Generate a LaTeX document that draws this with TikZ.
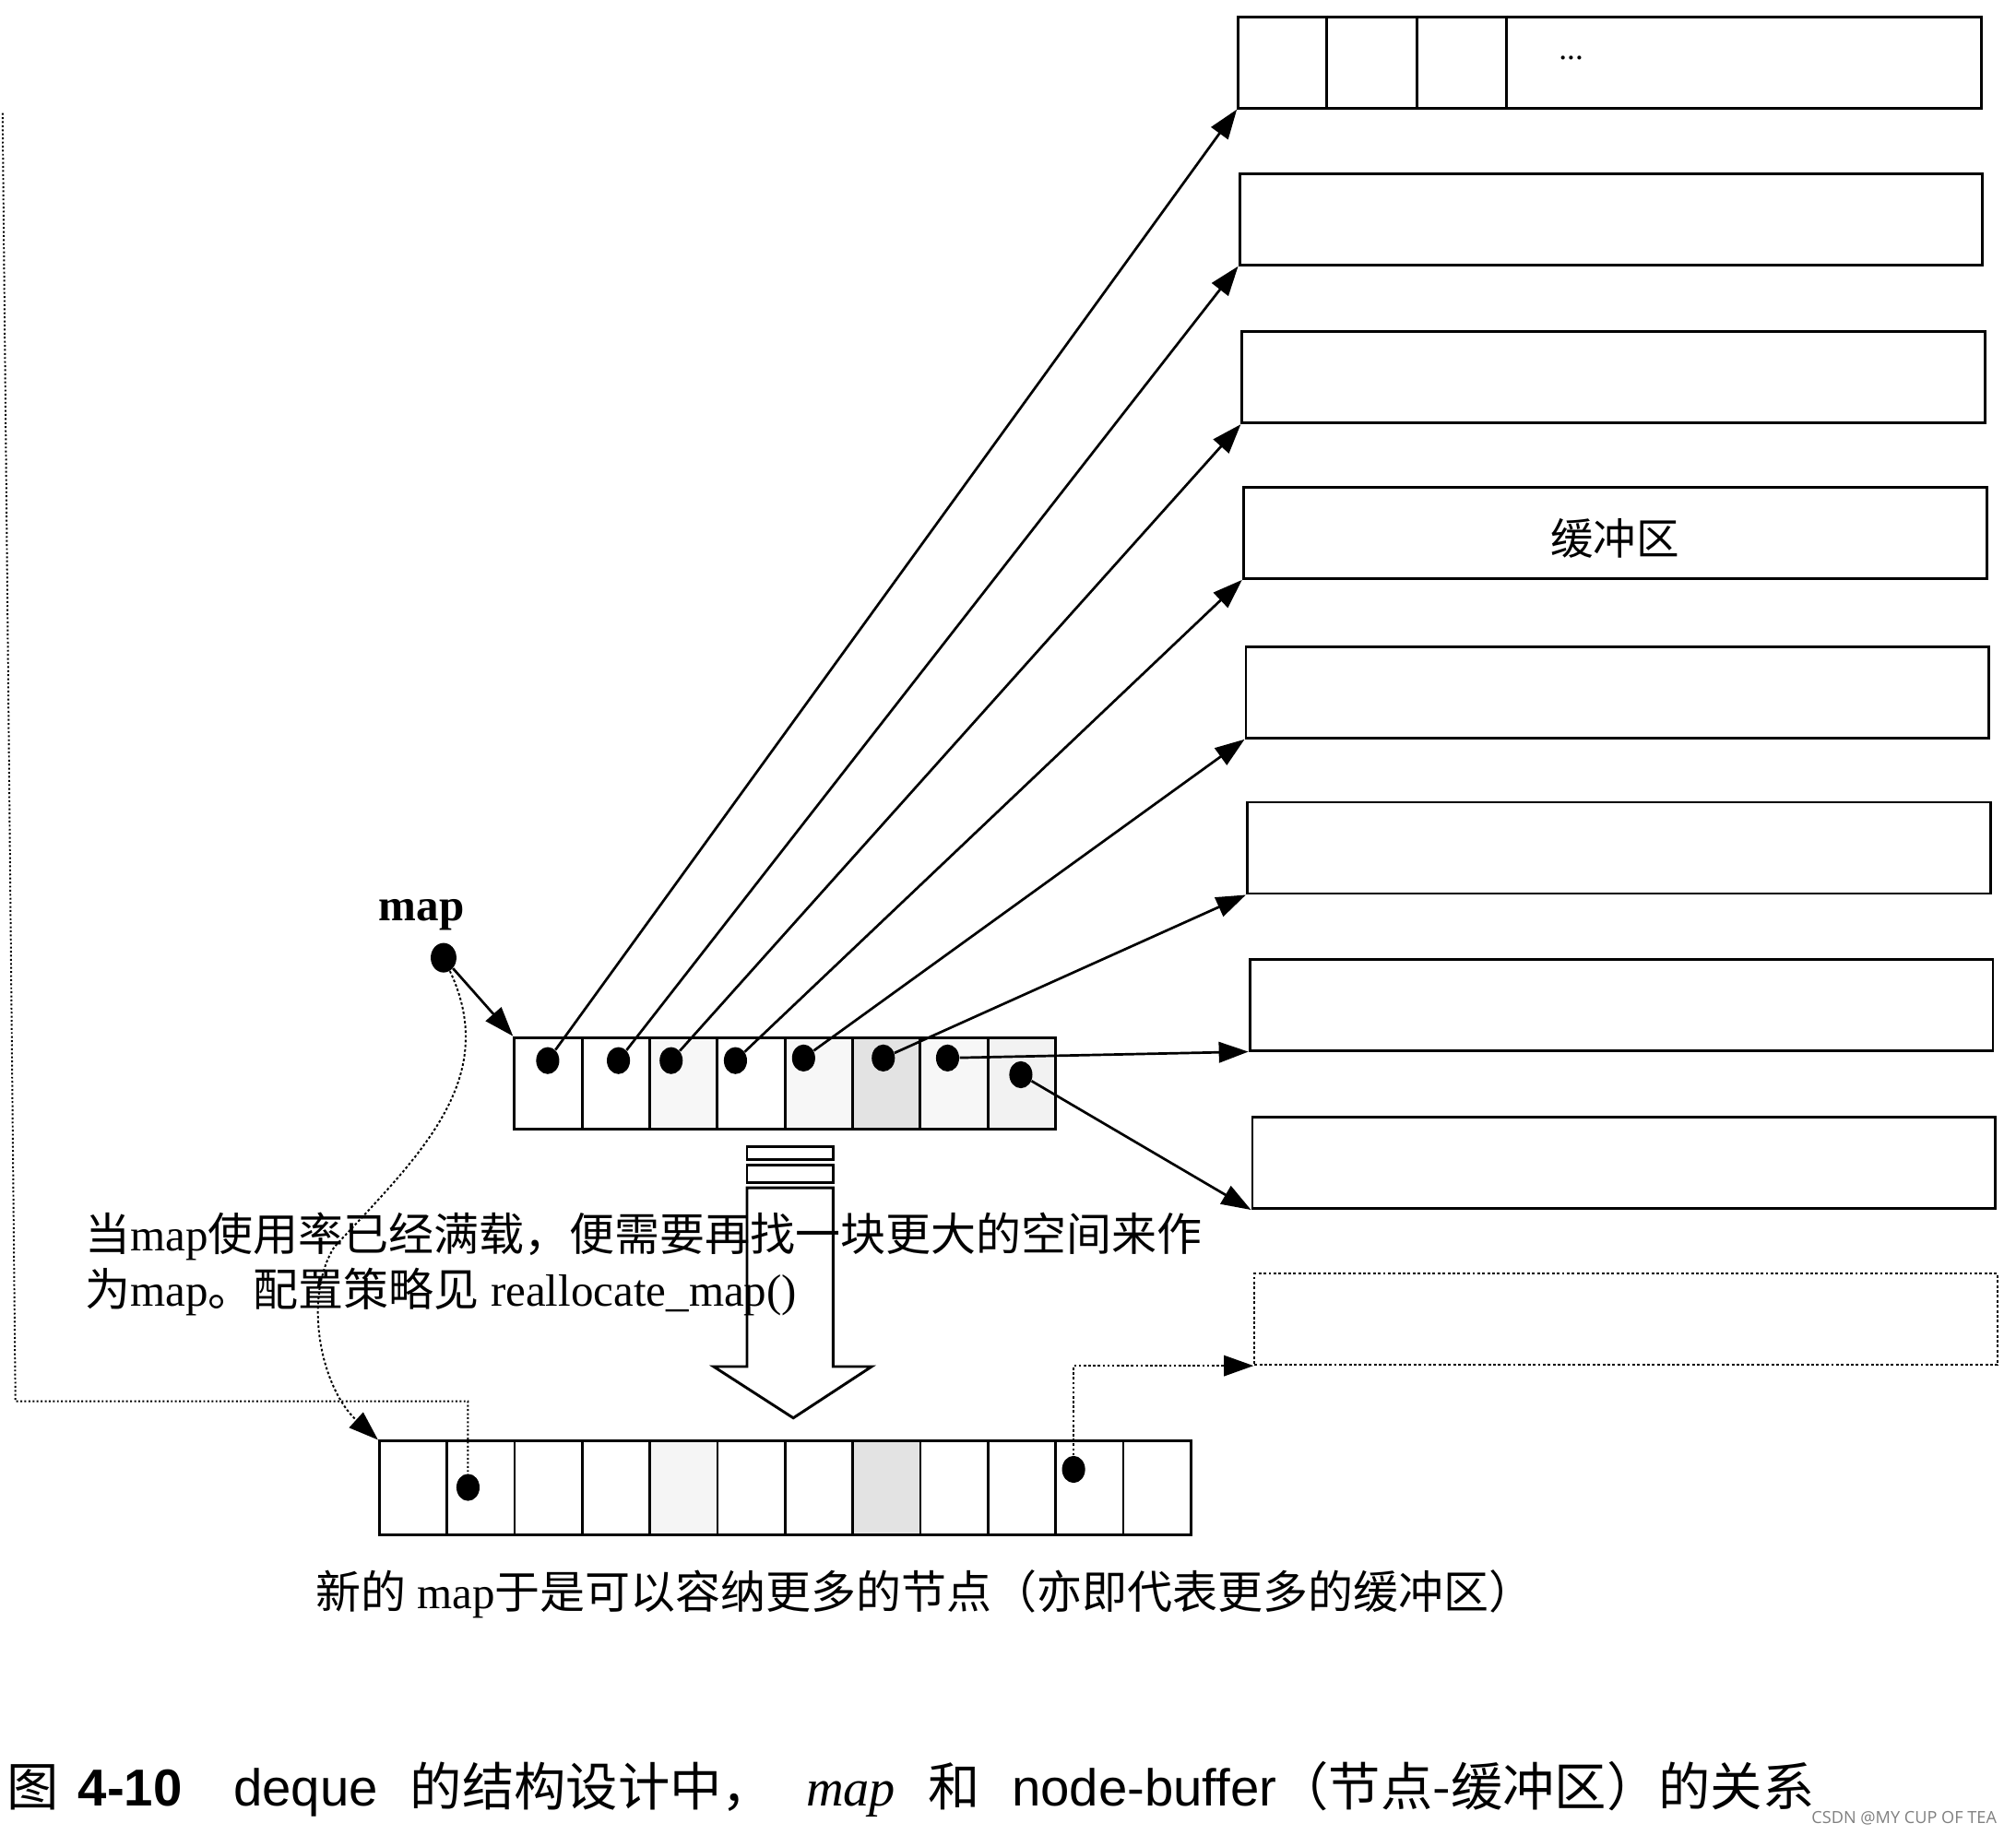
\documentclass[tikz,border=0pt]{standalone}
\usepackage{fontspec}
\setmainfont{Liberation Serif}
\setsansfont{Liberation Sans}
\newfontfamily\cjk{Noto Sans CJK SC}
\newfontfamily\wmfont{Open Sans}
\usetikzlibrary{arrows.meta, positioning, calc, shapes.geometric}

\begin{document}
\begin{tikzpicture}[x=0.2mm, y=-0.2mm,
    buffer/.style={draw, line width=1.2pt, minimum width=115.6mm, minimum height=14.2mm, anchor=north west, inner sep=0pt},
    cell/.style={draw, line width=1.2pt, minimum width=10.52mm, minimum height=14.2mm, anchor=north west, inner sep=0pt},
    newcell/.style={cell, minimum height=14.6mm},
    dot/.style={ellipse, fill, inner sep=0pt, minimum width=3.6mm, minimum height=4.2mm},
    ptr/.style={-{Triangle[length=4.6mm, width=3.2mm]}, line width=1.1pt},
    dotptr/.style={ptr, densely dotted, line width=0.8pt},
    note/.style={anchor=west, inner sep=0pt, font=\fontsize{20}{24}\selectfont}
]
    \useasboundingbox (0,0) rectangle (1568,1427);

    % node buffers
    \foreach \i/\x/\y in {1/962/12, 2/963/134, 3/965/257, 4/966/378, 5/968/502, 6/969/623, 7/971/745, 8/973/868}
        \node[buffer] (buf\i) at (\x,\y) {};
    \node[buffer, densely dotted, line width=0.8pt] (buf9) at (975,990) {};
    \foreach \dx in {70,140,210}
        \draw[line width=1.2pt] ($(buf1.north west)+(\dx,0)$) -- ($(buf1.south west)+(\dx,0)$);
    \node[font=\Large] (more) at (1222,45) {...};
    \node[font=\cjk\fontsize{19}{22}\selectfont] (buflabel) at ($(buf4)+(0,4)$) {缓冲区};

    % old map
    \foreach \i/\f in {1/0, 2/0, 3/6, 4/0, 5/6, 6/22, 7/6, 8/10}
        \node[cell, fill=gray!\f] (o\i) at ({399+52.6*(\i-1)},806) {};
    \foreach \i/\x/\y in {1/426/825, 2/481/825, 3/522/825, 4/572/825, 5/625/823, 6/687/823, 7/737/823, 8/794/836}
        \node[dot] (od\i) at (\x,\y) {};
    \foreach \i in {1,...,8}
        \draw[ptr] (od\i) -- (buf\i.south west);

    \node[font=\bfseries\fontsize{20}{24}\selectfont] (maplabel) at (328,712) {map};
    \node[dot, minimum width=4mm, minimum height=4.6mm] (mapdot) at (345,745) {};
    \draw[ptr] (mapdot) -- (o1.north west);

    % new map
    \foreach \i/\f in {1/0, 2/0, 3/0, 4/0, 5/8, 6/0, 7/0, 8/22, 9/0, 10/0, 11/0, 12/0}
        \node[newcell, fill=gray!\f] (n\i) at ({294+52.6*(\i-1)},1120) {};
    \node[dot] (nd1) at (364,1157) {};
    \node[dot] (nd2) at (835,1143) {};

    \draw[dotptr] (mapdot) .. controls (390,840) and (325,900) .. (260,970)
        .. controls (235,1010) and (250,1080) .. (n1.north west);
    \coordinate (ltop) at (2,88);
    \draw[densely dotted, line width=0.8pt] (ltop) -- ++(10,1002) -| (nd1);
    \draw[dotptr] (nd2) |- (buf9.south west);

    % hollow arrow
    \draw[line width=1.2pt] (581,892) rectangle (648,902);
    \draw[line width=1.2pt] (581,906) rectangle (648,920);
    \draw[line width=1.2pt] (581,924) -- (581,1063) -- (555,1063) -- (617,1103)
        -- (678,1063) -- (648,1063) -- (648,924) -- cycle;

    % Labels
    \node[note] (note1) at (66,962) {{\cjk 当}map{\cjk 使用率已经满载，便需要再找一块更大的空间来作}};
    \node[note] (note2) at (66,1005) {{\cjk 为}map{\cjk 。配置策略见} reallocate\_map()};
    \node[note] (newnote) at (245,1240) {{\cjk 新的} map{\cjk 于是可以容纳更多的节点（亦即代表更多的缓冲区）}};

    \node[anchor=west, inner sep=0pt, font=\fontsize{23}{28}\selectfont] (caption) at (5,1392)
        {{\cjk 图}\hspace{3mm}{\sffamily\bfseries 4-10}\hspace{8mm}{\sffamily deque}\hspace{5mm}{\cjk 的结构设计中，}\hspace{5mm}\textit{map}\hspace{5mm}{\cjk 和}\hspace{5mm}{\sffamily node-buffer}{\cjk （节点-缓冲区）的关系}};
    \node[font=\wmfont\fontsize{7.4}{9}\selectfont, text=gray] (wm) at (1481,1414) {CSDN @MY CUP OF TEA};
\end{tikzpicture}
\end{document}
